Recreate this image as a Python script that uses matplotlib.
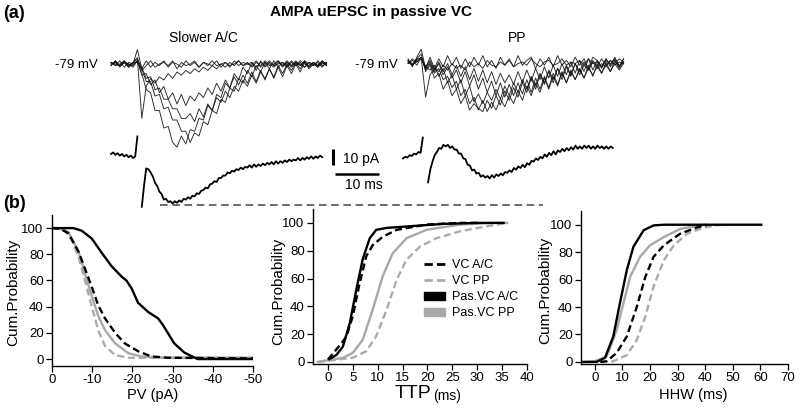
import numpy as np
import matplotlib
matplotlib.use("Agg")
import matplotlib.pyplot as plt
from matplotlib.lines import Line2D
from matplotlib.patches import Patch

plt.rcParams['font.family'] = ['Liberation Sans', 'DejaVu Sans']
plt.rcParams['axes.unicode_minus'] = False

# ---------------- data: example traces (pA, 1 ms steps) ----------------
# A/C overlay of single sweeps
ac_sweep1 = [1,-1,2,-2,1,0,9,-3,2,-2,1,-1,2,-2,1,0,-2,2,-1,1,-2,1,0,-1,2,-2,1,-1,0,2,-1,1,-2,1,-1,2,0,-2,1,-1,2,-1,1,0,-2,1,-1,2,-1,0]
ac_sweep2 = [-1,2,-1,1,-2,1,4,-4,-1,2,-2,0,1,-1,2,-3,1,-1,0,2,-2,1,-1,2,-1,0,1,-2,2,-1,1,0,-1,2,-2,1,-1,0,2,-1,1,-2,1,-1,2,0,-1,1,-2,1]
ac_sweep3 = [0,1,-1,2,-1,1,3,-34,-14,-9,-12,-8,-10,-6,-9,-5,-7,-4,-6,-3,-5,-2,-4,-1,-3,0,-2,1,-1,2,-1,0,1,-2,1,-1,2,-1,0,1,-2,1,-1,2,0,-1,1,-2,1,0]
ac_sweep4 = [-1,2,-2,1,0,-2,2,-6,-16,-18,-29,-29,-40,-39,-49,-52,-45,-50,-41,-42,-34,-35,-26,-29,-19,-21,-12,-15,-6,-10,-2,-6,1,-4,2,-2,1,-1,2,-2,1,-1,2,-1,1,-2,1,-1,2,0]
ac_sweep5 = [1,-1,0,2,-1,1,1,-3,-11,-11,-20,-19,-28,-27,-35,-35,-42,-42,-49,-43,-45,-36,-38,-29,-31,-22,-24,-15,-17,-9,-12,-4,-8,-1,-5,1,-3,2,-2,1,-1,2,-1,1,-2,1,0,-1,2,-1]
ac_sweep6 = [0,1,-1,1,-2,0,2,-2,-9,-8,-16,-15,-22,-22,-28,-28,-34,-34,-31,-36,-28,-33,-25,-29,-21,-24,-17,-21,-14,-17,-10,-14,-7,-12,-5,-9,-3,-8,-1,-6,0,-4,1,-3,2,-2,1,-1,0,1]
ac_sweep7 = [1,0,-1,1,0,-1,2,-7,-6,-13,-10,-18,-14,-22,-18,-25,-19,-26,-20,-23,-18,-21,-15,-19,-12,-17,-10,-15,-8,-13,-7,-12,-5,-11,-4,-10,-3,-9,-2,-8,-1,-6,0,-5,1,-3,0,-2,1,-1]
ac_sweeps = [ac_sweep1, ac_sweep2, ac_sweep3, ac_sweep4, ac_sweep5, ac_sweep6, ac_sweep7]

# PP overlay of single sweeps
pp_sweep1 = [2,-3,3,8,-4,3,-4,2,-3,4,-2,3,-4,2,-3,3,-2,4,-3,1,-4,3,-2,2,-3,4,-2,1,3,-4,2,-2,3,-3,4,-2,1,-3,3,-2,2,-4,3,1,-3,2,-2,3,-3,2]
pp_sweep2 = [-1,1,-2,3,-22,-8,-4,-6,-2,-5,-1,-4,-2,-5,0,-3,-1,-4,1,-2,-3,0,-2,1,-3,-1,0,-2,2,-1,-3,0,1,-2,-1,2,-2,0,-1,1,-2,2,-1,0,-3,1,-1,2,-2,0]
pp_sweep3 = [0,-2,2,5,-6,-2,-10,-7,-17,-12,-21,-17,-26,-21,-30,-26,-29,-31,-24,-29,-21,-27,-18,-24,-16,-22,-13,-19,-10,-17,-8,-14,-6,-13,-4,-11,-3,-9,-1,-8,-2,-5,0,-4,-1,-3,1,-2,0,-1]
pp_sweep4 = [1,-1,0,3,-5,-1,-7,-4,-11,-9,-16,-12,-21,-17,-26,-22,-30,-24,-31,-25,-30,-23,-28,-21,-26,-18,-24,-15,-21,-13,-19,-10,-17,-9,-15,-7,-13,-6,-11,-5,-10,-4,-8,-3,-7,-2,-6,-1,-5,-1]
pp_sweep5 = [-1,2,0,2,-4,0,-6,-1,-8,-3,-10,-5,-13,-6,-15,-8,-17,-10,-19,-12,-21,-13,-22,-14,-21,-13,-20,-11,-19,-10,-17,-9,-16,-7,-14,-6,-13,-5,-11,-4,-10,-2,-9,-1,-7,0,-6,1,-4,0]
pp_sweep6 = [0,-2,2,2,-3,1,-5,0,-6,-1,-8,-2,-9,-3,-11,-4,-12,-5,-13,-6,-14,-7,-13,-8,-14,-6,-13,-5,-12,-4,-11,-3,-10,-2,-9,-1,-8,0,-7,1,-6,2,-5,1,-4,2,-3,1,-3,2]
pp_sweep7 = [1,-2,1,3,-3,-5,-2,-9,-4,-13,-8,-17,-11,-21,-15,-25,-20,-26,-19,-24,-17,-23,-15,-21,-13,-19,-11,-17,-9,-15,-7,-13,-5,-11,-4,-9,-2,-8,-1,-6,0,-5,1,-3,2,-2,1,-1,2,0]
pp_sweeps = [pp_sweep1, pp_sweep2, pp_sweep3, pp_sweep4, pp_sweep5, pp_sweep6, pp_sweep7]

# averages (0.5 ms steps): pre-stimulus part and response
ac_avg_pre = [0,1,-0.5,0.5,-1,0,-1.5,-0.5,-2,-1,-2.5,-1.5,11]
ac_avg_post_t0 = 7.0
ac_avg_post = [-33,-20,-9,-9.5,-11.5,-14,-18,-20,-23.5,-25,-28.5,-28,-30,-29.5,-31,-29.5,-30.5,-29,-30,-28,
               -28.5,-27,-28,-26,-26.5,-24.5,-25,-23,-22.5,-21,-21.5,-19,-18.5,-17,-17.5,-15,-15,-13.5,-13.5,-11.5,
               -12,-10.5,-11,-9.5,-10,-8.5,-9.5,-8,-8.5,-7,-8.5,-6.5,-8,-6.5,-7.5,-6,-7,-5.5,-6.5,-5,
               -6.5,-4.5,-6,-4.5,-5.5,-4,-5,-3.5,-4.5,-3.5,-4,-2.5,-4,-2.5,-3.5,-2,-3,-1.5,-3,-1.5,
               -2.5,-1,-2]
pp_avg_pre = [-4,-3,-3.5,-2,-2.5,-1,-1.5,0,-0.5,9]
pp_avg_post_t0 = 5.7
pp_avg_post = [-19,-11,-6,-2,0,2.5,2,4.5,3.5,4.5,2.5,3.5,1.5,1.5,-1,-1,-4,-4.5,-8,-8.5,
               -11.5,-11,-13.5,-13,-15.5,-14.5,-16,-15,-16.5,-14.5,-16,-14,-15,-13.5,-14.5,-12.5,-13,-11.5,-12.5,-10,
               -11,-9,-10,-8,-9.5,-7,-8,-5.5,-6,-4,-5,-3,-4,-1.5,-3,-0.5,-2,0.5,-1.5,1,
               0,2,0.5,2.5,1,3,1.5,4,2,3.5,2,4,2.5,4,2,3.5,2,4,2.5,3.5,
               2,3.5,2,3.5,2.5]

# ---------------- data: cumulative distributions ----------------
pv_pas_ac_x = [0,-3,-5.3,-7.4,-9.9,-12.4,-14.8,-17.3,-18.5,-19.8,-21.4,-23.9,-26.4,-27.6,-28.8,-30.4,-32.9,-36.2,-50]
pv_pas_ac_y = [100,100,100,98,92,81,71,63,60,54,43,36,31,26,20,12,5,0,0]
pv_vc_ac_x = [0,-2,-4.1,-6.6,-8.2,-9.9,-11.5,-13.2,-15.7,-18.1,-21.4,-24.7,-28.8,-50]
pv_vc_ac_y = [100,99.5,96,82,69,55,41,31,20,12,6,2,1,0.5]
pv_pas_pp_x = [0,-2,-4.1,-6.6,-8.2,-9.9,-11.5,-13.2,-15.7,-19,-22.2,-28,-50]
pv_pas_pp_y = [100,99.5,97,82,65,48,33,22,12,4.5,2,1,1]
pv_vc_pp_x = [0,-1.6,-3.3,-4.9,-6.6,-8.2,-9.9,-11.5,-13.2,-15.7,-19,-50]
pv_vc_pp_y = [100,99.5,98,91,78,60,40,22,10,3,1,1]

ttp_pas_ac_x = [0.3,1.7,3,4.4,5.7,7,8.4,9.7,11.8,16.5,23.2,30,35.3]
ttp_pas_ac_y = [2,5,11,28,52,74,89,95,96.4,97.6,99.3,100,100]
ttp_vc_ac_x = [0,1.7,3.7,5,6.4,7.7,9,11,13.8,19.8,26.6,30]
ttp_vc_ac_y = [1.7,9,18,33,57,76,84,90,95,98.8,100,100]
ttp_pas_pp_x = [-2,3,5,7,9,11,13,15.8,19.8,26.6,33,36]
ttp_pas_pp_y = [0,3,6.5,16,37.6,61.6,78,89,95,98.8,100,100]
ttp_vc_pp_x = [-2,5,7.7,9.7,11.8,13.8,15.8,18.5,21.8,26.6,32,36]
ttp_vc_pp_y = [0,3,7.7,18.5,37.6,59,73.6,83,89,94,97.6,100]

hhw_pas_ac_x = [-5,0.6,3.7,6.7,9.1,11.6,14,17.7,21.3,25,60.3]
hhw_pas_ac_y = [0,0,3,18.6,42.8,67,84,96,99.5,100,100]
hhw_pas_pp_x = [-5,0,4.3,7.9,10.4,12.8,16.4,20,25,31,39.6]
hhw_pas_pp_y = [0,0.5,4,23,43,62,76.6,85,91,97,100]
hhw_vc_ac_x = [2,4.3,7.9,11.6,15.2,18.3,21.3,25,31,37,40.8]
hhw_vc_ac_y = [0,0.5,6.5,18.6,40,62,76.6,85,93.5,98,100]
hhw_vc_pp_x = [2,6.7,11.6,15.2,18.3,21.3,25,28.6,33.5,39.6,45.7]
hhw_vc_pp_y = [0,0.5,5,16,33,55,74,85,93.5,98,100]

legend_labels = ['VC A/C', 'VC PP', 'Pas.VC A/C', 'Pas.VC PP']
yticks = [0, 20, 40, 60, 80, 100]
pv_ticks = [0, -10, -20, -30, -40, -50]
ttp_ticks = [0, 5, 10, 15, 20, 25, 30, 35, 40]
hhw_ticks = [0, 10, 20, 30, 40, 50, 60, 70]

# ---------------- figure ----------------
W, H = 800, 408
fig = plt.figure(figsize=(8, 4.08), dpi=100)

ov = fig.add_axes([0, 0, 1, 1])
ov.set_xlim(0, W)
ov.set_ylim(H, 0)
ov.axis('off')

PX_MS = 4.4   # pixels per ms (10 ms scale bar)
PX_PA = 1.6   # pixels per pA (10 pA scale bar)

def trace(vals, x0, y0, dt=1.0, t0=0.0, **kw):
    v = np.asarray(vals, float)
    t = t0 + np.arange(len(v)) * dt
    ov.plot(x0 + t * PX_MS, y0 - v * PX_PA, **kw)

thin = dict(color='#111111', lw=0.65, alpha=0.9)
for s in ac_sweeps:
    trace(s, 111, 64, **thin)
for s in pp_sweeps:
    trace(s, 408, 62, **thin)

avg = dict(color='black', lw=1.3)
trace(ac_avg_pre, 111, 154, dt=0.5, **avg)
trace(ac_avg_post, 111, 154, dt=0.5, t0=ac_avg_post_t0, **avg)
trace(pp_avg_pre, 403, 152, dt=0.5, **avg)
trace(pp_avg_post, 403, 152, dt=0.5, t0=pp_avg_post_t0, **avg)

# scale bars
ov.plot([333, 333], [149, 149 + 10 * PX_PA], color='black', lw=2.2, solid_capstyle='butt')
ov.plot([335, 335 + 10 * PX_MS], [174, 174], color='black', lw=1.8, solid_capstyle='butt')
ov.text(343, 159, '10 pA', fontsize=10, va='center', ha='left')
ov.text(345, 185, '10 ms', fontsize=10, va='center', ha='left')

# dashed reference line
ov.plot([160, 543], [205, 205], color='#444444', lw=1.1, dashes=(5, 3))

# texts panel a
ov.text(3, 13, '(a)', fontsize=13, fontweight='bold', va='center', ha='left')
ov.text(371, 12, 'AMPA uEPSC in passive VC', fontsize=11, fontweight='bold', va='center', ha='center')
ov.text(203, 38, 'Slower A/C', fontsize=10, va='center', ha='center')
ov.text(517, 38, 'PP', fontsize=10, va='center', ha='center')
ov.text(55, 65, '-79 mV', fontsize=9.5, va='center', ha='left')
ov.text(355, 65, '-79 mV', fontsize=9.5, va='center', ha='left')
ov.text(3, 203, '(b)', fontsize=13, fontweight='bold', va='center', ha='left')

def px_axes(left, top, right, bottom):
    return fig.add_axes([left / W, 1 - bottom / H, (right - left) / W, (bottom - top) / H])

def setup(ax, xlim, ylim, xticks):
    ax.set_xlim(*xlim)
    ax.set_ylim(*ylim)
    ax.set_xticks(xticks)
    ax.set_yticks(yticks)
    for s in ['top', 'right']:
        ax.spines[s].set_visible(False)
    for s in ['left', 'bottom']:
        ax.spines[s].set_linewidth(1.0)
    ax.tick_params(direction='out', length=4, width=0.9, labelsize=9.5, pad=2)
    ax.patch.set_alpha(0)

BLK = 'black'
GRY = '#a8a8a8'
GRYD = '#ababab'
DASH = (3, 1.6)

def curves(ax, pas_ac, vc_ac, pas_pp, vc_pp):
    ax.plot(*vc_pp, color=GRYD, lw=1.7, dashes=DASH)
    ax.plot(*pas_pp, color=GRY, lw=1.7)
    ax.plot(*vc_ac, color=BLK, lw=1.7, dashes=DASH)
    ax.plot(*pas_ac, color=BLK, lw=1.7)

ax1 = px_axes(52, 215, 253, 366)
setup(ax1, (0, -50), (-5.3, 110), pv_ticks)
curves(ax1, (pv_pas_ac_x, pv_pas_ac_y), (pv_vc_ac_x, pv_vc_ac_y),
       (pv_pas_pp_x, pv_pas_pp_y), (pv_vc_pp_x, pv_vc_pp_y))

ax2 = px_axes(313, 209, 527, 364)
setup(ax2, (-3, 40), (-1.5, 110), ttp_ticks)
curves(ax2, (ttp_pas_ac_x, ttp_pas_ac_y), (ttp_vc_ac_x, ttp_vc_ac_y),
       (ttp_pas_pp_x, ttp_pas_pp_y), (ttp_vc_pp_x, ttp_vc_pp_y))

ax3 = px_axes(581, 211, 788, 364)
setup(ax3, (-5, 70), (-1.5, 110), hhw_ticks)
curves(ax3, (hhw_pas_ac_x, hhw_pas_ac_y), (hhw_vc_ac_x, hhw_vc_ac_y),
       (hhw_pas_pp_x, hhw_pas_pp_y), (hhw_vc_pp_x, hhw_vc_pp_y))

# axis labels
for x, y in [(13, 292), (278, 291), (545, 290)]:
    ov.text(x, y, 'Cum.Probability', fontsize=11, rotation=90, va='center', ha='center')
ov.text(153, 395, 'PV (pA)', fontsize=10.5, va='center', ha='center')
ov.text(395, 393, 'TTP', fontsize=14, va='center', ha='left')
ov.text(433, 396, '(ms)', fontsize=10, va='center', ha='left')
ov.text(693, 395, 'HHW (ms)', fontsize=10.5, va='center', ha='center')

handles = [Line2D([], [], color=BLK, lw=2, dashes=(3, 1.5)),
           Line2D([], [], color=GRYD, lw=2, dashes=(3, 1.5)),
           Patch(facecolor=BLK, edgecolor=BLK),
           Patch(facecolor=GRY, edgecolor=GRY)]
ax2.legend(handles, legend_labels, loc='upper left',
           bbox_to_anchor=(424 / W, 1 - 259 / H), bbox_transform=fig.transFigure,
           frameon=False, fontsize=9, handlelength=1.7, handleheight=0.6,
           handletextpad=0.55, labelspacing=0.33, borderpad=0, borderaxespad=0)

fig.savefig('out.png', dpi=100)
